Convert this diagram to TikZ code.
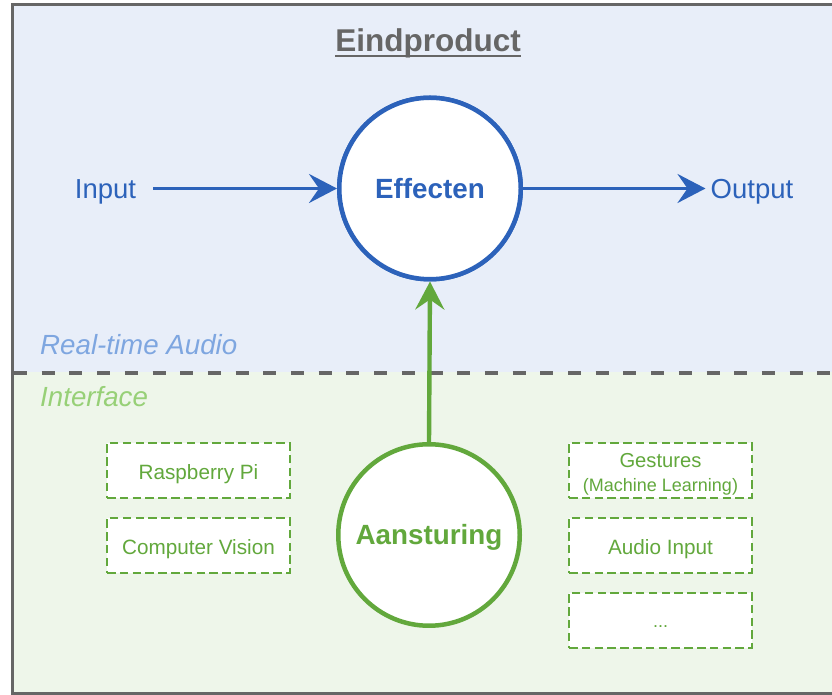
\documentclass[tikz,border=0pt]{standalone}
\usepackage{fontspec}
\setmainfont{Liberation Sans}
\usetikzlibrary{arrows.meta}
\definecolor{fgblue}{HTML}{2C62BA}
\definecolor{bgblue}{HTML}{E8EEF9}
\definecolor{fggreen}{HTML}{62A83C}
\definecolor{bggreen}{HTML}{EEF6EA}
\definecolor{lblue}{HTML}{7EA6E0}
\definecolor{lgreen}{HTML}{97D077}
\definecolor{frame}{HTML}{666666}
\tikzset{
  x=1pt, y=1pt,
  bigcircle/.style={circle, minimum size=181.5pt, inner sep=0pt, fill=white, line width=4.5pt,
    font=\fontsize{27.8}{30}\selectfont\bfseries, text height=19.9pt, text depth=0pt},
  dbox/.style={draw=fggreen, dash pattern=on 8.5pt off 4.3pt, line width=2.8pt, fill=white,
    minimum width=183pt, minimum height=55pt, inner sep=0pt, text=fggreen,
    font=\fontsize{20.7}{24}\selectfont, text height=18.8pt, text depth=0pt},
  boxtext/.style={text=fggreen, inner sep=0pt, anchor=base},
  flow/.style={line width=3.6pt, -{Stealth[length=28pt,width=29pt,inset=10pt]}},
  label/.style={font=\fontsize{27.5}{30}\selectfont, inner sep=0pt}
}
\begin{document}
\begin{tikzpicture}
\useasboundingbox (0,0) rectangle (832,695);
\clip (0,0) rectangle (832,695);
% backgrounds
\fill[bgblue] (12.5,323) rectangle (850,690.7);
\fill[bggreen] (12.5,1.5) rectangle (850,323);
\draw[frame, line width=3.4pt] (12.5,1.5) rectangle (850,690.7);
\draw[frame, line width=4pt, dash pattern=on 13pt off 14.7pt] (14,322) -- (850,322);
% title
\node[text=frame, font=\fontsize{31.5}{34}\selectfont\bfseries, inner sep=0pt, anchor=base] (title) at (428,643) {Eindproduct};
\draw[frame, line width=2.3pt] ([yshift=-4pt]title.base west) -- ([yshift=-4pt]title.base east);
% region labels
\node[label, anchor=base west, text=lblue, font=\fontsize{27.7}{30}\selectfont\itshape] (rta) at (40,340) {Real-time Audio};
\node[label, anchor=base west, text=lgreen, font=\fontsize{27.7}{30}\selectfont\itshape] (intf) at (40,288) {Interface};
% main nodes
\node[bigcircle, draw=fgblue, text=fgblue] (eff) at (430,506.5) {Effecten};
\node[bigcircle, draw=fggreen, text=fggreen] (aan) at (429,160) {Aansturing};
\node[label, text=fgblue, anchor=base] (inp) at (105.5,496) {Input};
\node[label, text=fgblue, anchor=base west] (out) at (710.5,496.5) {Output};
% arrows
\draw[flow, fgblue, shorten <=17pt] (inp.east |- eff.west) -- (eff.west);
\draw[flow, fgblue, shorten >=5pt] (eff.east) -- (out.west |- eff.east);
\draw[flow, fggreen, line width=4.4pt] (aan.north) -- (eff.south);
\node[bigcircle, draw=fgblue, text=fgblue] at (eff) {Effecten};
% boxes
\node[dbox] (rpi) at (198.5,224.5) {Raspberry Pi};
\node[dbox] (cv) at (198.5,149.5) {Computer Vision};
\node[dbox] (gest) at (660.5,224.5) {};
\node[boxtext, font=\fontsize{20.2}{24}\selectfont] (gestA) at (660.5,227) {Gestures};
\node[boxtext, font=\fontsize{18}{20}\selectfont] (gestB) at (660.5,203.5) {(Machine Learning)};
\node[dbox] (audio) at (660.5,149.5) {Audio Input};
\node[dbox] (more) at (660.5,74.5) {};
\node[boxtext, font=\fontsize{18}{20}\selectfont] (dots) at (660.5,67.5) {...};
\end{tikzpicture}
\end{document}
